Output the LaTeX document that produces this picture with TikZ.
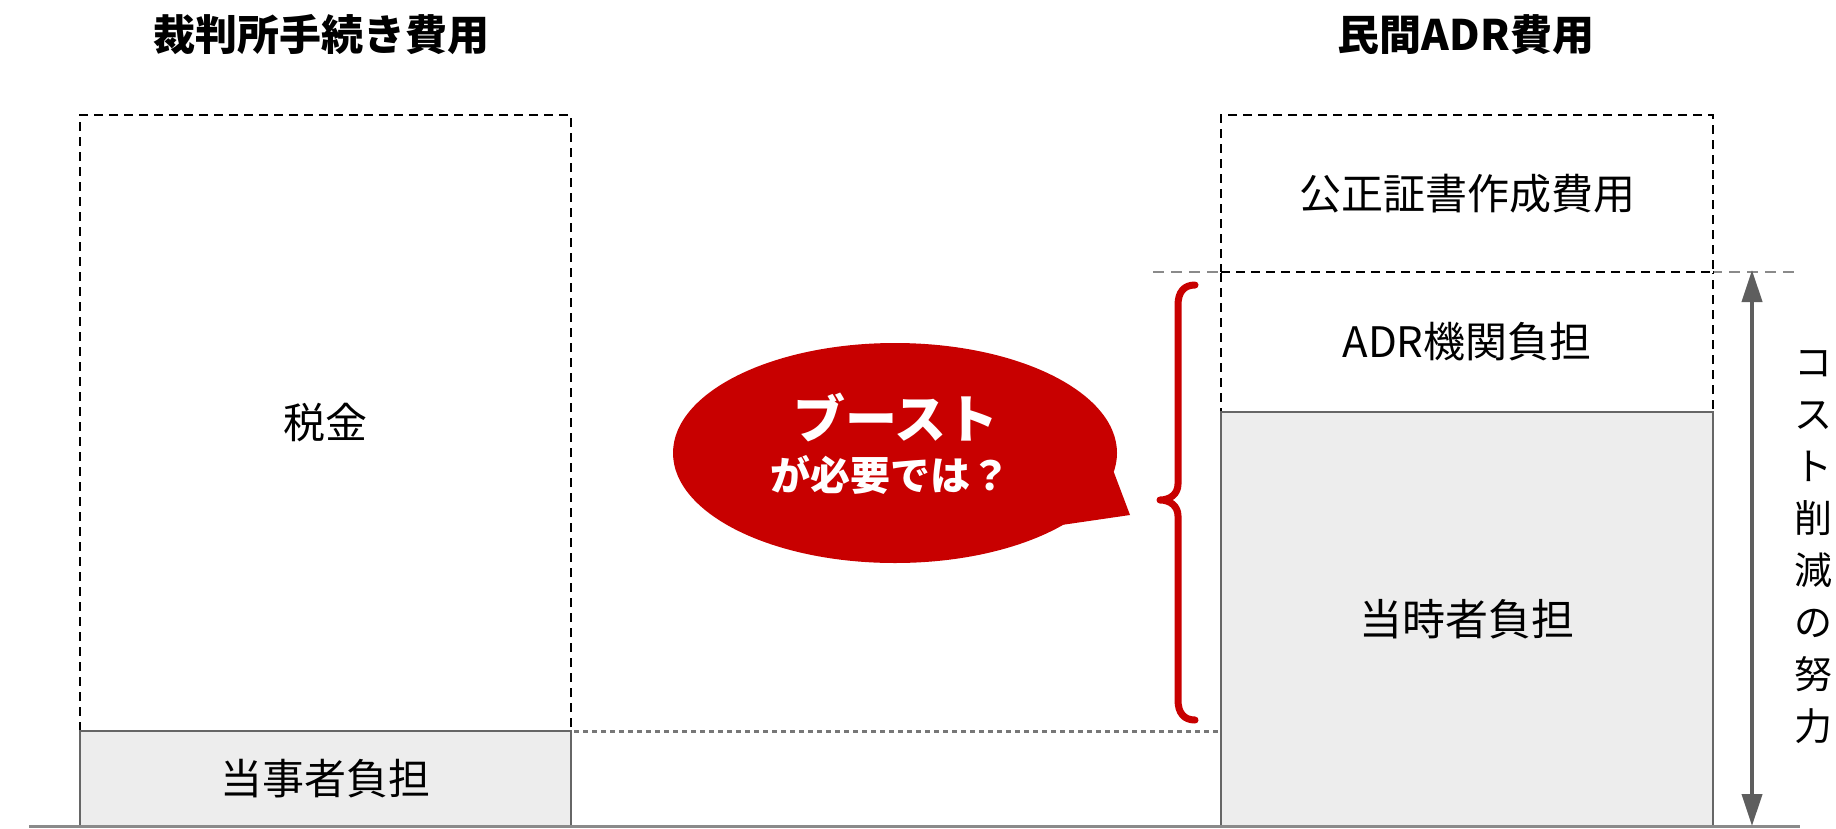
\documentclass[tikz,border=0pt]{standalone}
\usepackage{fontspec}
\newfontfamily\jp{Noto Sans CJK JP}
\usetikzlibrary{arrows.meta,shapes.geometric}
\definecolor{bred}{HTML}{C80000}
\definecolor{gfill}{HTML}{EDEDED}
\definecolor{gline}{HTML}{666666}
\definecolor{darr}{HTML}{5E5E5E}
\definecolor{gdash}{HTML}{8A8A8A}
\definecolor{gdot}{HTML}{777777}
\tikzset{
  dashline/.style={draw=black, line width=2pt, dash pattern=on 9pt off 6pt},
  dashbox/.style={dashline, inner sep=0pt, outer sep=0pt, font=\jp\fontsize{42}{50}\selectfont},
  graybox/.style={draw=gline, fill=gfill, line width=2pt, inner sep=0pt, outer sep=0pt, font=\jp\fontsize{42}{50}\selectfont},
  ttl/.style={font=\jp\bfseries\fontsize{42}{50}\selectfont},
  guide/.style={draw=gdash, line width=2pt, dash pattern=on 11pt off 7pt},
  dotguide/.style={draw=gdot, line width=3pt, dash pattern=on 5pt off 4pt},
  ground/.style={draw=gdash, line width=3pt},
  costarrow/.style={draw=darr, line width=4pt, {Triangle[width=20pt,length=32pt]}-{Triangle[width=20pt,length=32pt]}},
  bracepath/.style={draw=bred, line width=7pt, line cap=round, line join=round}
}
\begin{document}
\begin{tikzpicture}[x=1pt,y=-1pt]
\useasboundingbox (0,0) rectangle (1836,828);
% titles
\node[ttl] (t1) at (321,35) {裁判所手続き費用};
\node[ttl] (t2) at (1466,35) {民間ADR費用};
% guide line at 272
\coordinate (ga) at (1153,272);
\coordinate (gb) at (1797,272);
\draw[guide] (ga) -- (gb);
% left column
\node[dashbox, minimum width=491pt, minimum height=616pt] (ltax) at (325.5,423) {税金};
\node[graybox, minimum width=491pt, minimum height=96pt] (lpay) at (325.5,779) {当事者負担};
% right column
\node[dashbox, minimum width=492pt, minimum height=157pt] (rnot) at (1467,193.5) {公正証書作成費用};
\node[dashbox, minimum width=492pt, minimum height=140pt] (radr) at (1467,342) {ADR機関負担};
\draw[white, line width=2.6pt] (radr.north west) -- (radr.north east);
\draw[dashline] (radr.north west) -- (radr.north east);
\node[graybox, minimum width=492pt, minimum height=415pt, font=\jp\fontsize{43}{50}\selectfont] (rpay) at (1467,619.5) {当時者負担};
% dotted level line
\draw[dotguide] ([xshift=3pt]lpay.north east) -- (lpay.north east -| rpay.west);
% ground
\coordinate (g1) at (29,826.5);
\coordinate (g2) at (1800,826.5);
\draw[ground] (g1) -- (g2);
% cost arrow
\coordinate (atop) at (1752,270);
\coordinate (abot) at (1752,826);
\draw[costarrow] (atop) -- (abot);
\node[font=\jp\fontsize{38}{52}\selectfont, align=center, inner sep=0pt] (cost) at (1813,547) {コ\\ス\\ト\\削\\減\\の\\努\\力};
% brace
\draw[bracepath] (1195,285) .. controls (1184,285) and (1178,292) .. (1178,305)
  -- (1178,484) .. controls (1178,494) and (1170,500) .. (1160,500)
  .. controls (1170,500) and (1178,506) .. (1178,516)
  -- (1178,700) .. controls (1178,713) and (1184,720) .. (1195,720);
% speech bubble
\node[ellipse, fill=bred, minimum width=444pt, minimum height=220pt, inner sep=0pt] (bubble) at (895,453) {};
\coordinate (tip) at (1130,515);
\fill[bred] (bubble.-5) -- (tip) -- (bubble.-23) -- (bubble.center) -- cycle;
\node[font=\jp\bfseries\fontsize{52}{56}\selectfont, text=white] (boost) at (896,417) {ブースト};
\node[font=\jp\bfseries\fontsize{40}{48}\selectfont, text=white] (need) at (890,475) {が必要では？};
\end{tikzpicture}
\end{document}
